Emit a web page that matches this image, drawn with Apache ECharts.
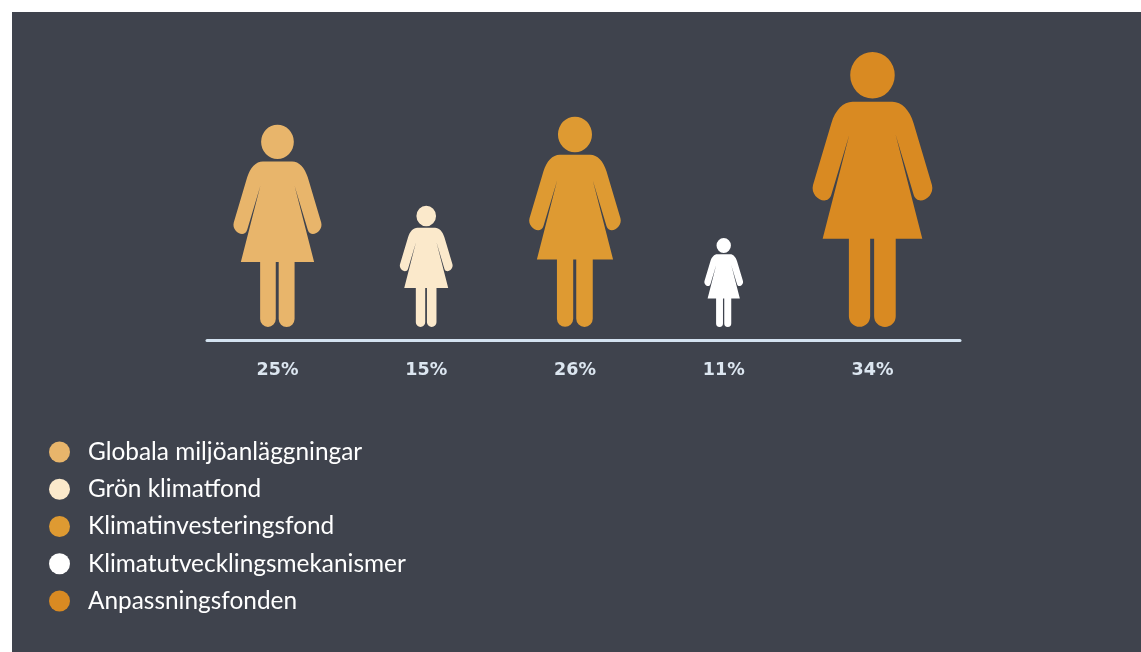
<!DOCTYPE html>
<html>
<head>
<meta charset="utf-8">
<style>html,body{margin:0;padding:0;background:#fff}#c{width:1141px;height:652px}</style>
<script src="https://cdn.jsdelivr.net/npm/echarts@6/dist/echarts.min.js"></script>
</head>
<body>
<div id="c"></div>
<script>
var names = ['Globala miljöanläggningar','Grön klimatfond','Klimatinvesteringsfond','Klimatutvecklingsmekanismer','Anpassningsfonden'];
var values = [25,15,26,11,34];
var tickLabels = ['25%','15%','26%','11%','34%'];
var colors = ['#E8B56B','#FBE9CB','#DE9A32','#FFFFFF','#D98A22'];
var woman = 'path://M248 155A67 70 0 1 1 248 295A67 70 0 1 1 248 155Z' +
 'M188 305L308 305C336 305 360 330 372 370L427 555C437 592 384 622 372 585L318 405L398 717L318 717L318 950A32.5 32.5 0 0 1 253 950L253 717L241 717L241 950A32 32 0 0 1 177 950L177 717L98 717L178 405L124 585C112 622 59 592 69 555L124 370C136 330 160 305 188 305Z';
var gridHeight = 323.6, axisMax = 40, figureAspect = 360 / 827;

var series = names.map(function(n,i){
  return {
    type:'pictorialBar', name:n, xAxisIndex:0, yAxisIndex:0,
    symbol:woman,
    barWidth:140, barGap:'-100%',
    itemStyle:{color:colors[i]},
    data:values.map(function(v,j){
      return j===i ? {value:v, symbolSize:[v/axisMax*gridHeight*figureAspect,'100%']} : null;
    })
  };
});

var chart = echarts.init(document.getElementById('c'),null,{renderer:'canvas'});
chart.setOption({
  animation:false,
  backgroundColor:'#ffffff',
  graphic:[{type:'rect',silent:true,z:-10,shape:{x:12,y:12,width:1129,height:640},style:{fill:'#3F434D'}}],
  grid:[
    {left:203.1,width:743.75,top:327-gridHeight,height:gridHeight},
    {left:207,width:753,top:340,height:1}
  ],
  xAxis:[
    {type:'category',gridIndex:0,data:tickLabels,axisLine:{show:false},axisTick:{show:false},
     axisLabel:{margin:34,color:'#DCE6F0',fontFamily:'DejaVu Sans',fontWeight:'bold',fontSize:17.5}},
    {type:'value',gridIndex:1,min:0,max:1,position:'top',axisLine:{show:true,onZero:false,lineStyle:{color:'#D3E2F0',width:3}},
     axisTick:{show:false},axisLabel:{show:false},splitLine:{show:false}}
  ],
  yAxis:[
    {type:'value',gridIndex:0,min:0,max:axisMax,show:false},
    {type:'value',gridIndex:1,min:0,max:1,show:false}
  ],
  legend:{
    orient:'vertical',left:49,top:440,padding:0,icon:'circle',itemWidth:21,itemHeight:21,itemGap:13.25,
    data:names,selectedMode:false,
    textStyle:{color:'#FFFFFF',fontFamily:'Lato',fontSize:24.4,lineHeight:21,padding:[0,0,0,13]}
  },
  series:series
});
</script>
</body>
</html>
